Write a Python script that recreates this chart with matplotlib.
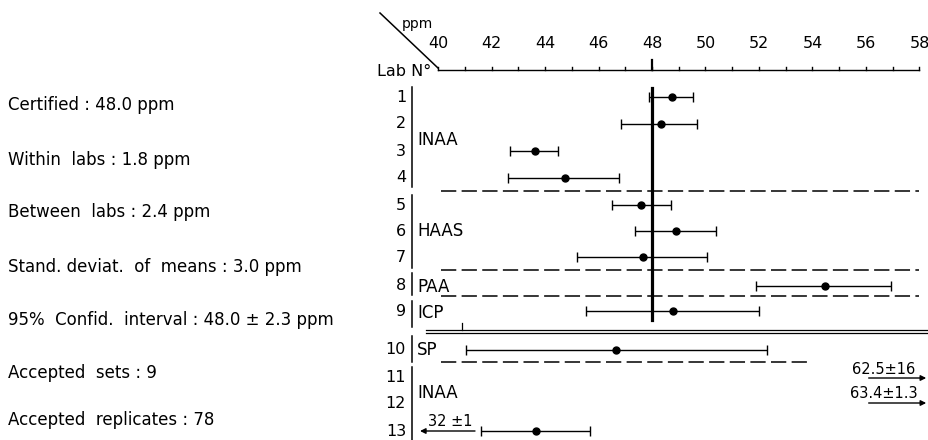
import numpy as np
import matplotlib
matplotlib.use("Agg")
import matplotlib.pyplot as plt
from matplotlib import transforms

# --- values ---
labs = list(range(1, 14))
methods = ["INAA", "HAAS", "PAA", "ICP", "SP", "INAA"]
means = [48.76, 48.32, 43.64, 44.76, 47.60, 48.90, 47.65, 54.46, 48.80, 46.65,
         np.nan, np.nan, 43.67]
lows = [47.87, 46.85, 42.70, 42.62, 46.50, 47.37, 45.18, 51.89, 45.55, 41.06,
        np.nan, np.nan, 41.60]
highs = [49.53, 49.70, 44.50, 46.75, 48.70, 50.39, 50.06, 56.94, 52.00, 52.29,
         np.nan, np.nan, 45.67]
certified = 48.0
off_labs = [11, 12, 13]
off_text = ["62.5±16", "63.4±1.3", "32 ±1"]
off_side = ["right", "right", "left"]
stats = ["Certified : 48.0 ppm",
         "Within  labs : 1.8 ppm",
         "Between  labs : 2.4 ppm",
         "Stand. deviat.  of  means : 3.0 ppm",
         "95%  Confid.  interval : 48.0 ± 2.3 ppm",
         "Accepted  sets : 9",
         "Accepted  replicates : 78"]
x_ticks = np.arange(40, 59, 2)

# --- layout (pixel rows, y grows downward) ---
row_y = [97, 124, 151, 178, 205, 231, 257, 286, 311, 350, 378, 403, 431]
sep_y = [191.5, 270, 296.5, 362.5]
sep_end = [58.0, 58.0, 58.0, 54.0]
bracket_span = [(87, 187), (195, 268), (273, 295), (301, 327), (336, 362), (367, 440)]
method_y = [140, 231, 287, 313, 350, 393]
stat_y = [105, 160, 212, 267, 320, 373, 420]

W, H = 929, 440
px0, unit = 438.0, 26.75          # pixel of x=40, pixels per ppm
xmin = 40 - px0 / unit
xmax = 40 + (W - px0) / unit

def px(p):                         # pixel column -> data x
    return 40 + (p - px0) / unit

fig = plt.figure(figsize=(W / 100, H / 100), dpi=100)
ax = fig.add_axes([0, 0, 1, 1])
ax.set_xlim(xmin, xmax)
ax.set_ylim(H, 0)
ax.axis("off")

# top scale
ax.plot([40, 58], [70, 70], color="k", lw=1.0)
for v in range(40, 59):
    ax.plot([v, v], [70, 67], color="k", lw=1.0)
ax.plot([certified, certified], [70, 60], color="k", lw=1.6)
for v in x_ticks:
    ax.text(v, 43, str(v), ha="center", va="center", fontsize=11.5)
ax.plot([px(380), px(438)], [13, 68], color="k", lw=1.1)
ax.text(px(417), 24, "ppm", ha="center", va="center", fontsize=10)
ax.text(px(431), 71, "Lab N°", ha="right", va="center", fontsize=11.5)

# certified value
ax.plot([certified, certified], [88, 320], color="k", lw=2.3, zorder=3)

# group brackets, lab numbers, method names
bx = px(412)
for (a, b) in bracket_span:
    ax.plot([bx, bx], [a, b], color="k", lw=1.1)
for lab, y in zip(labs, row_y):
    ax.text(px(406), y, str(lab), ha="right", va="center", fontsize=11.5)
for name, y in zip(methods, method_y):
    ax.text(px(417), y, name, ha="left", va="center", fontsize=12)

# separators
for y, end in zip(sep_y, sep_end):
    ax.plot([40.12, end], [y, y], color="k", lw=1.1, dashes=(10, 3.5))
ax.plot([39.55, xmax], [330, 330], color="k", lw=0.9)
ax.plot([39.55, xmax], [333.5, 333.5], color="k", lw=0.9)
ax.plot([40.9, 40.9], [323, 330], color="k", lw=0.9)

# lab means with ranges
m = np.array(means)
err = [m - np.array(lows), np.array(highs) - m]
ax.errorbar(m, row_y, xerr=err, fmt="o", color="k", ms=5, lw=1.0,
            capsize=3.5, capthick=1.0, zorder=4)

# off-scale results
for lab, txt, side in zip(off_labs, off_text, off_side):
    y = row_y[lab - 1]
    if side == "right":
        tail, tip, tx = 56.1, 58.25, 56.65
    else:
        tail, tip, tx = px(475), px(420), px(450)
    ax.annotate("", xy=(tip, y), xytext=(tail, y),
                arrowprops=dict(arrowstyle="-|>", color="k", lw=1.0,
                                mutation_scale=8, shrinkA=0, shrinkB=0))
    ax.text(tx, y - 9, txt, ha="center", va="center", fontsize=10.5)

# summary statistics
tr = transforms.blended_transform_factory(transforms.IdentityTransform(), ax.transData)
for txt, y in zip(stats, stat_y):
    ax.text(8, y, txt, ha="left", va="center", fontsize=12, transform=tr)

fig.savefig("out.png", dpi=100)
